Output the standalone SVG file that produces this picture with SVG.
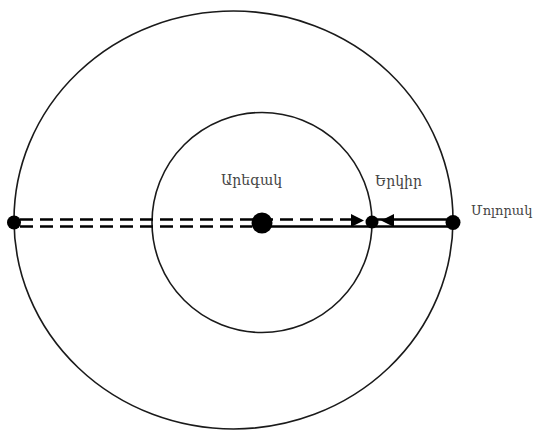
<svg xmlns="http://www.w3.org/2000/svg" width="534" height="431" viewBox="0 0 534 431">
<style>
.orb{fill:none;stroke:#1a1a1a;stroke-width:1.6}
.ln{fill:none;stroke:#000;stroke-width:2.6}
.dash{stroke-dasharray:13 7}
.dot{fill:#000}
.lbl{font-family:"DejaVu Serif",serif;font-size:14px;fill:#444}
.sm{font-size:13px}
</style>
<rect width="534" height="431" fill="#fff"/>
<g id="orbits">
<ellipse class="orb" cx="233.5" cy="220" rx="219.5" ry="209"/>
<circle class="orb" cx="262" cy="222.5" r="110"/>
</g>
<g id="connectors">
<line class="ln dash" x1="20" y1="219.5" x2="356" y2="219.5"/>
<line class="ln dash" x1="20" y1="226.5" x2="252" y2="226.5"/>
<line class="ln" x1="262" y1="226.5" x2="372" y2="226.5"/>
<line class="ln" x1="372" y1="219.5" x2="453" y2="219.5"/>
<line class="ln" x1="372" y1="226.5" x2="453" y2="226.5"/>
<polygon points="351,214 364,220.5 351,227" fill="#000"/>
<polygon points="394,214 381,220.5 394,227" fill="#000"/>
</g>
<g id="left-point"><circle class="dot" cx="14" cy="222.5" r="7"/></g>
<g id="sun"><circle class="dot" cx="262" cy="223" r="10.5"/><text class="lbl" x="221" y="185">Արեգակ</text></g>
<g id="earth"><circle class="dot" cx="372" cy="222" r="6.5"/><text class="lbl" x="375" y="186">Երկիր</text></g>
<g id="planet"><circle class="dot" cx="453" cy="222.5" r="7.5"/><text class="lbl sm" x="471" y="215">Մոլորակ</text></g>
</svg>
